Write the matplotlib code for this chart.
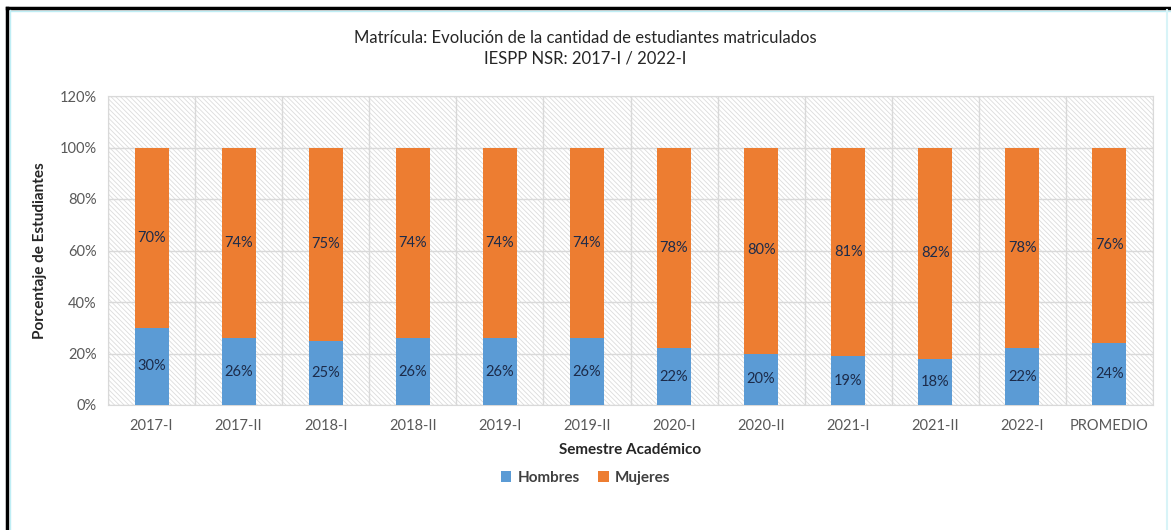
import matplotlib
matplotlib.use("Agg")
import matplotlib.pyplot as plt
from matplotlib.patches import Rectangle
from matplotlib.lines import Line2D
import numpy as np

# ── data ──────────────────────────────────────────────────────────────────────
semestres = ["2017-I", "2017-II", "2018-I", "2018-II", "2019-I", "2019-II",
             "2020-I", "2020-II", "2021-I", "2021-II", "2022-I", "PROMEDIO"]
hombres = [30, 26, 25, 26, 26, 26, 22, 20, 19, 18, 22, 24]
mujeres = [70, 74, 75, 74, 74, 74, 78, 80, 81, 82, 78, 76]
yticks = [0, 20, 40, 60, 80, 100, 120]

BLUE = "#5B9BD5"
ORANGE = "#ED7D31"
GRID = "#d9d9d9"
TXT = "#595959"
LBL = "#1c2b4a"

plt.rcParams["font.family"] = ["Lato", "DejaVu Sans"]
plt.rcParams["hatch.linewidth"] = 0.6

fig = plt.figure(figsize=(11.71, 5.30), dpi=100)
ax = fig.add_axes([108 / 1171, 1 - 405 / 530, (1153 - 108) / 1171, 309 / 530])

# hatched plot-area background
ax.add_patch(Rectangle((0, 0), 1, 1, transform=ax.transAxes, facecolor="white",
                       edgecolor="#dcdcdc", hatch="\\" * 7, lw=0, zorder=0))

x = np.arange(len(semestres))
w = 0.39
b1 = ax.bar(x, hombres, w, color=BLUE, label="Hombres", zorder=3)
b2 = ax.bar(x, mujeres, w, bottom=hombres, color=ORANGE, label="Mujeres", zorder=3)

for i, (h, m) in enumerate(zip(hombres, mujeres)):
    ax.text(i, h / 2, f"{h}%", ha="center", va="center", fontsize=10.5, color=LBL, zorder=4)
    ax.text(i, h + m / 2, f"{m}%", ha="center", va="center", fontsize=10.5, color=LBL, zorder=4)

ax.set_xlim(-0.5, len(semestres) - 0.5)
ax.set_ylim(0, 120)
ax.set_yticks(yticks)
ax.set_yticklabels([f"{v}%" for v in yticks])
ax.set_xticks(x)
ax.set_xticklabels(semestres)
ax.set_xticks(np.arange(len(semestres) + 1) - 0.5, minor=True)
ax.tick_params(axis="both", which="both", length=0, colors=TXT, labelsize=10.5)
ax.tick_params(axis="x", pad=10)
ax.tick_params(axis="y", pad=8)
ax.grid(axis="y", which="major", color=GRID, lw=1, zorder=1)
ax.grid(axis="x", which="minor", color=GRID, lw=1, zorder=1)
ax.set_axisbelow(True)
for s in ax.spines.values():
    s.set_color(GRID)

ax.set_ylabel("Porcentaje de Estudiantes", fontsize=11, fontweight="bold",
              color="#262626", labelpad=9)
ax.set_xlabel("Semestre Académico", fontsize=11, fontweight="bold",
              color="#262626", labelpad=7)

fig.text(0.5, 1 - 38 / 530, "Matrícula: Evolución de la cantidad de estudiantes matriculados",
         ha="center", va="center", fontsize=12, color="#262626")
fig.text(0.5, 1 - 58 / 530, "IESPP NSR: 2017-I / 2022-I",
         ha="center", va="center", fontsize=12, color="#262626")

fig.legend(handles=[b1, b2], loc="center", bbox_to_anchor=(0.5, 1 - 478 / 530),
           ncol=2, frameon=False, handlelength=0.7, handleheight=0.7,
           columnspacing=1.2, handletextpad=0.4,
           prop={"weight": "bold", "size": 11})
for t in fig.legends[0].get_texts():
    t.set_color("#404040")

# frame around the picture
fig.add_artist(Line2D([7 / 1171, 1], [1 - 8 / 530] * 2, transform=fig.transFigure,
                      color="black", lw=2.5))
fig.add_artist(Line2D([7 / 1171] * 2, [0, 1 - 8 / 530], transform=fig.transFigure,
                      color="black", lw=2.5))
fig.add_artist(Line2D([10 / 1171, 1], [1 - 10.5 / 530] * 2, transform=fig.transFigure,
                      color="#bfeef5", lw=1))
fig.add_artist(Line2D([9.5 / 1171] * 2, [0, 1 - 10 / 530], transform=fig.transFigure,
                      color="#bfeef5", lw=1))
fig.add_artist(Line2D([1167 / 1171] * 2, [0, 1 - 10 / 530], transform=fig.transFigure,
                      color="#d8f4f8", lw=1.5))

fig.savefig("out.png", dpi=100)
